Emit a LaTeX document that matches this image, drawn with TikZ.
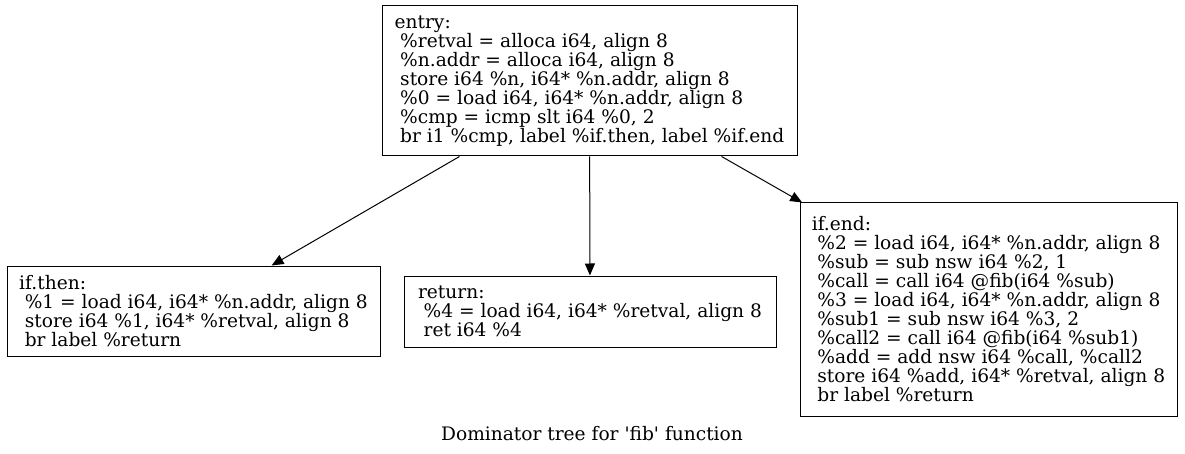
\documentclass[tikz,border=0pt]{standalone}
\usepackage{fontspec}
\setmainfont{DejaVu Serif}[Ligatures=TeXOff]
\usetikzlibrary{arrows.meta}

\begin{document}
\begin{tikzpicture}[x=1pt, y=1pt, line width=1pt,
  block/.style={draw, rectangle, align=left, inner sep=0pt, font=\fontsize{18.6}{19}\selectfont},
  domedge/.style={-{Triangle[length=12pt,width=10pt]}}]
\newcommand{\Ind}{\hspace*{0.3em}};
\useasboundingbox (0, 0) rectangle (1185, 453);
\coordinate (Pentry) at (589.5, 372);
\coordinate (Pthen) at (193.5, 142);
\coordinate (Pret) at (590, 141.5);
\coordinate (Pend) at (988.5, 143.5);

% blocks
\node[block, minimum width=415, minimum height=150] (entry) at (Pentry) {entry:\\
\Ind\%retval = alloca i64, align 8\\
\Ind\%n.addr = alloca i64, align 8\\
\Ind store i64 \%n, i64* \%n.addr, align 8\\
\Ind\%0 = load i64, i64* \%n.addr, align 8\\
\Ind\%cmp = icmp slt i64 \%0, 2\\
\Ind br i1 \%cmp, label \%if.then, label \%if.end};
\node[block, minimum width=373, minimum height=90] (ifthen) at (Pthen) {if.then:\\
\Ind\%1 = load i64, i64* \%n.addr, align 8\\
\Ind store i64 \%1, i64* \%retval, align 8\\
\Ind br label \%return};
\node[block, minimum width=372, minimum height=71] (ret) at (Pret) {return:\\
\Ind\%4 = load i64, i64* \%retval, align 8\\
\Ind ret i64 \%4};
\node[block, minimum width=377, minimum height=213] (ifend) at (Pend) {if.end:\\
\Ind\%2 = load i64, i64* \%n.addr, align 8\\
\Ind\%sub = sub nsw i64 \%2, 1\\
\Ind\%call = call i64 @fib(i64 \%sub)\\
\Ind\%3 = load i64, i64* \%n.addr, align 8\\
\Ind\%sub1 = sub nsw i64 \%3, 2\\
\Ind\%call2 = call i64 @fib(i64 \%sub1)\\
\Ind\%add = add nsw i64 \%call, \%call2\\
\Ind store i64 \%add, i64* \%retval, align 8\\
\Ind br label \%return};
%

% edges
\draw[domedge] (entry) -- (ifthen);
\draw[domedge] (entry) -- (ret);
\draw[domedge] (entry) -- (ifend);

% labels
\node[font=\fontsize{18.6}{19}\selectfont] (title) at (592, 19) {Dominator tree for 'fib' function};
%
\end{tikzpicture}
\end{document}
